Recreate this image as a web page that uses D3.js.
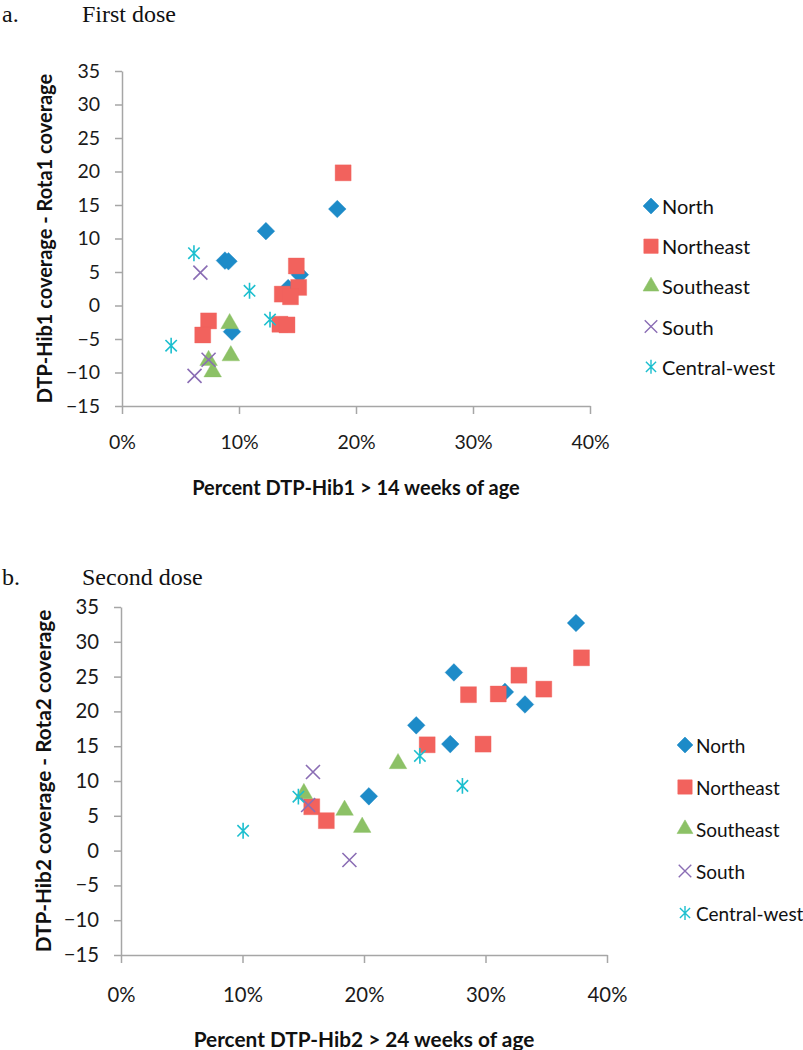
<!DOCTYPE html>
<html>
<head>
<meta charset="utf-8">
<script src="https://cdn.jsdelivr.net/npm/d3@7.9.0/dist/d3.min.js"></script>
<style>
  body { margin: 0; background: #fff; }
  svg text { font-family: Lato, "Open Sans", sans-serif; }
  .tick text { fill: #1a1a1a; }
  .domain, .tick line { stroke: #a6a6a6; stroke-width: 1.5; }
  .axis-title { font-weight: bold; fill: #111; }
  .panel-title { font-family: "Liberation Serif", "DejaVu Serif", serif !important; font-size: 24px; fill: #111; }
  .legend text { fill: #111; }
</style>
</head>
<body>
<svg id="chart" width="803" height="1050"></svg>
<script>
// regions in drawing order (Excel draws later series on top)
const regions = ['North', 'Northeast', 'Southeast', 'South', 'Central-west'];
const regionColors = ['#1d8bc8', '#f2625d', '#8cc166', '#8a6db4', '#1cbfcf'];

const xTicks = [0, 10, 20, 30, 40];
const yTicks = [-15, -10, -5, 0, 5, 10, 15, 20, 25, 30, 35];

// a. first dose: [percent DTP-Hib1 > 14 weeks, DTP-Hib1 - Rota1 coverage]
const firstNorth = [[18.4, 14.4], [12.3, 11.1], [8.8, 6.7], [9.1, 6.6], [15.2, 4.6], [14.2, 2.6], [9.4, -3.9]];
const firstNortheast = [[18.9, 19.8], [14.9, 5.9], [15.1, 2.7], [13.7, 1.7], [14.4, 1.3], [13.5, -2.8], [14.1, -2.9], [7.4, -2.3], [6.9, -4.4]];
const firstSoutheast = [[9.2, -2.7], [9.3, -7.5], [7.4, -8.2], [7.75, -9.9]];
const firstSouth = [[6.7, 4.9], [7.4, -8.1], [6.2, -10.5]];
const firstCentralWest = [[6.15, 7.8], [10.9, 2.2], [12.65, -2.1], [4.2, -6.0]];

// b. second dose: [percent DTP-Hib2 > 24 weeks, DTP-Hib2 - Rota2 coverage]
const secondNorth = [[37.45, 32.7], [27.4, 25.6], [31.6, 22.8], [33.25, 21.0], [24.3, 18.0], [27.1, 15.3], [20.4, 7.8]];
const secondNortheast = [[37.9, 27.7], [32.75, 25.2], [34.8, 23.2], [31.05, 22.5], [28.6, 22.4], [29.8, 15.3], [25.2, 15.2], [15.7, 6.3], [16.9, 4.3]];
const secondSoutheast = [[22.8, 12.5], [15.05, 8.2], [18.4, 5.8], [19.85, 3.35]];
const secondSouth = [[15.8, 11.3], [15.4, 6.55], [18.8, -1.35]];
const secondCentralWest = [[24.6, 13.6], [28.1, 9.3], [14.6, 7.75], [10.05, 2.85]];

// Excel style markers
const excelStar = {
  draw(ctx, size) {
    const r = Math.sqrt(size) / 2;
    const d = r * 0.72;
    ctx.moveTo(0, -r); ctx.lineTo(0, r);
    ctx.moveTo(-d, -d); ctx.lineTo(d, d);
    ctx.moveTo(-d, d); ctx.lineTo(d, -d);
  }
};
const excelX = {
  draw(ctx, size) {
    const r = Math.sqrt(size) / 2;
    ctx.moveTo(-r, -r); ctx.lineTo(r, r);
    ctx.moveTo(-r, r); ctx.lineTo(r, -r);
  }
};
const markers = [
  { type: d3.symbolSquare, size: 156, rotate: 45, filled: true },
  { type: d3.symbolSquare, size: 256, rotate: 0, filled: true },
  { type: d3.symbolTriangle, size: 135, rotate: 0, filled: true },
  { type: excelX, size: 196, rotate: 0, filled: false },
  { type: excelStar, size: 250, rotate: 0, filled: false }
];

const panels = [
  {
    label: 'a.', title: 'First dose', titleY: 22,
    series: [firstNorth, firstNortheast, firstSoutheast, firstSouth, firstCentralWest],
    left: 122, right: 590, top: 71, bottom: 406,
    tickFont: 19.5, titleFont: 20, legendFont: 20,
    xPad: 21, xTitle: 'Percent DTP-Hib1 > 14 weeks of age', xTitleY: 487,
    yTitle: 'DTP-Hib1 coverage - Rota1 coverage', yTitleX: 44,
    legendX: 651, legendY: 206, legendStep: 40.2
  },
  {
    label: 'b.', title: 'Second dose', titleY: 585,
    series: [secondNorth, secondNortheast, secondSoutheast, secondSouth, secondCentralWest],
    left: 121, right: 607, top: 607, bottom: 955,
    tickFont: 20.3, titleFont: 20.8, legendFont: 19,
    xPad: 25, xTitle: 'Percent DTP-Hib2 > 24 weeks of age', xTitleY: 1038,
    yTitle: 'DTP-Hib2 coverage - Rota2 coverage', yTitleX: 42,
    legendX: 685, legendY: 745, legendStep: 42
  }
];

const svg = d3.select('#chart');

panels.forEach((p) => {
  const g = svg.append('g');

  const x = d3.scaleLinear().domain([0, 40]).range([p.left, p.right]);
  const y = d3.scaleLinear().domain([-15, 35]).range([p.bottom, p.top]);

  g.append('text').attr('class', 'panel-title').attr('x', 2).attr('y', p.titleY).text(p.label);
  g.append('text').attr('class', 'panel-title').attr('x', 82).attr('y', p.titleY).text(p.title);

  g.append('g')
    .attr('transform', `translate(0,${p.bottom})`)
    .call(d3.axisBottom(x).tickValues(xTicks).tickSize(8).tickSizeOuter(0).tickPadding(p.xPad).tickFormat((d) => d + '%'))
    .selectAll('.tick text').style('font-size', p.tickFont + 'px');

  g.append('g')
    .attr('transform', `translate(${p.left},0)`)
    .call(d3.axisLeft(y).tickValues(yTicks).tickSize(7).tickSizeOuter(0).tickPadding(15))
    .selectAll('.tick text').style('font-size', p.tickFont + 'px');

  g.append('text')
    .attr('class', 'axis-title')
    .attr('x', (p.left + p.right) / 2)
    .attr('y', p.xTitleY)
    .attr('text-anchor', 'middle')
    .attr('dominant-baseline', 'central')
    .style('font-size', p.titleFont + 'px')
    .text(p.xTitle);

  g.append('text')
    .attr('class', 'axis-title')
    .attr('transform', `translate(${p.yTitleX},${(p.top + p.bottom) / 2}) rotate(-90)`)
    .attr('text-anchor', 'middle')
    .attr('dominant-baseline', 'central')
    .style('font-size', p.titleFont + 'px')
    .text(p.yTitle);

  // points, series by series
  p.series.forEach((pts, i) => {
    const m = markers[i];
    const sym = d3.symbol().type(m.type).size(m.size);
    g.append('g').selectAll('path')
      .data(pts)
      .join('path')
      .attr('d', sym)
      .attr('transform', (d) => `translate(${x(d[0])},${y(d[1])}) rotate(${m.rotate})`)
      .attr('fill', m.filled ? regionColors[i] : 'none')
      .attr('stroke', regionColors[i])
      .attr('stroke-width', m.filled ? 0.6 : 1.6)
      .attr('stroke-opacity', m.filled ? 0.6 : 1);
  });

  // legend
  const legend = g.append('g').attr('class', 'legend');
  regions.forEach((name, i) => {
    const m = markers[i];
    const ly = p.legendY + i * p.legendStep;
    legend.append('path')
      .attr('d', d3.symbol().type(m.type).size(m.size * 0.8))
      .attr('transform', `translate(${p.legendX},${ly}) rotate(${m.rotate})`)
      .attr('fill', m.filled ? regionColors[i] : 'none')
      .attr('stroke', regionColors[i])
      .attr('stroke-width', m.filled ? 0.6 : 1.4);
    legend.append('text')
      .attr('x', p.legendX + 11)
      .attr('y', ly)
      .attr('dominant-baseline', 'central')
      .style('font-size', p.legendFont + 'px')
      .text(name);
  });
});
</script>
</body>
</html>
